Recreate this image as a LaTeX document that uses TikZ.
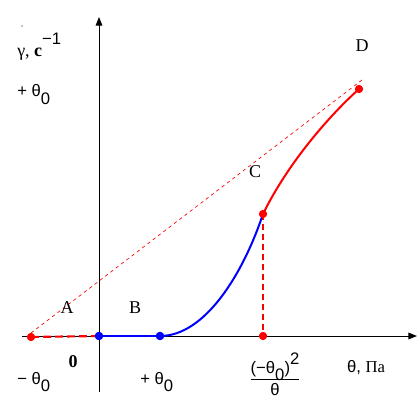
\documentclass[tikz,border=0pt]{standalone}
\usepackage{fontspec}
\setmainfont{Liberation Serif}
\newfontfamily\sansf{Liberation Sans}
\usetikzlibrary{arrows.meta}
\tikzset{
  axis/.style={line width=0.75pt,-{Triangle[length=6.5pt,width=5pt]}},
  rdot/.style={circle,fill=red,inner sep=0pt,minimum size=6pt},
  bdot/.style={circle,fill=blue,inner sep=0pt,minimum size=6.2pt},
  lbl/.style={inner sep=0pt,font=\fontsize{13.5}{15}\selectfont},
  slbl/.style={inner sep=0pt,font=\sansf\fontsize{12.5}{14}\selectfont},
  guide/.style={red,line width=0.5pt,dash pattern=on 2.5pt off 2.5pt},
  redthick/.style={red,line width=1.6pt,dash pattern=on 6pt off 3pt},
  vdash/.style={red,line width=0.8pt,dash pattern=on 4.5pt off 3pt},
  bluecurve/.style={blue,line width=1.5pt},
  redcurve/.style={red,line width=1.5pt}
}
\newcommand{\sbz}{\raisebox{-0.45em}{0}}
\begin{document}
\begin{tikzpicture}[x=0.75pt,y=-0.75pt]
\useasboundingbox (0,0) rectangle (420,402);
% axes
\coordinate (xs) at (22,336);
\coordinate (xe) at (417,336);
\coordinate (ys) at (99,392);
\coordinate (ye) at (99,17);
\draw[axis] (xs) -- (xe);
\draw[axis] (ys) -- (ye);
% key points
\node[rdot] (m) at (31,337) {};
\node[bdot] (o) at (99,336) {};
\node[bdot] (b) at (160,336) {};
\node[rdot] (c) at (263,214) {};
\node[rdot] (cx) at (263,336) {};
\node[rdot] (d) at (359,89) {};
\coordinate (g1) at (31,333);
\coordinate (g2) at (362,80);
% guide line
\draw[guide] (g1) -- (g2);
% segments
\draw[redthick] (m.center) -- (o.center);
\draw[bluecurve] (o.center) -- (b.center);
\draw[bluecurve] (b.center) .. controls (205,336) and (243,274) .. (c.center);
\draw[redcurve] (c.center) .. controls (288,163) and (329,116) .. (d.center);
\draw[vdash] (c.center) -- (cx.center);
\node[rdot] at (c) {};
\node[rdot] at (d) {};
\node[bdot] at (o) {};
\node[bdot] at (b) {};
\node[rdot] at (cx) {};
\node[rdot] at (m) {};
% stray dot
\fill (22,26) circle (0.5pt);
% labels
\node[lbl,anchor=base west] (ylab) at (17,57) {γ, \textbf{c}\raisebox{0.7em}{\sansf\fontsize{12.5}{14}\selectfont −1}};
\node[slbl,anchor=base west] (yth) at (17,97) {+ θ\sbz};
\node[lbl] (lD) at (362,46) {D};
\node[lbl] (lC) at (255,172) {C};
\node[lbl] (lA) at (67,308) {A};
\node[lbl] (lB) at (135,308) {B};
\node[lbl] (l0) at (73,362) {\textbf{0}};
\node[slbl,anchor=base west] (mth) at (17,384) {− θ\sbz};
\node[slbl,anchor=base west] (pth) at (140,384) {+ θ\sbz};
\node[slbl,anchor=base] (xlab) at (366,372) {θ, \rmfamily Па};
\node[slbl] (frac) at (275,377) {\begin{tabular}{@{}c@{}}(−θ\raisebox{-0.4em}{0})\raisebox{0.55em}{2}\\[-1pt]\hline\rule{0pt}{12pt}θ\end{tabular}};
\end{tikzpicture}
\end{document}
